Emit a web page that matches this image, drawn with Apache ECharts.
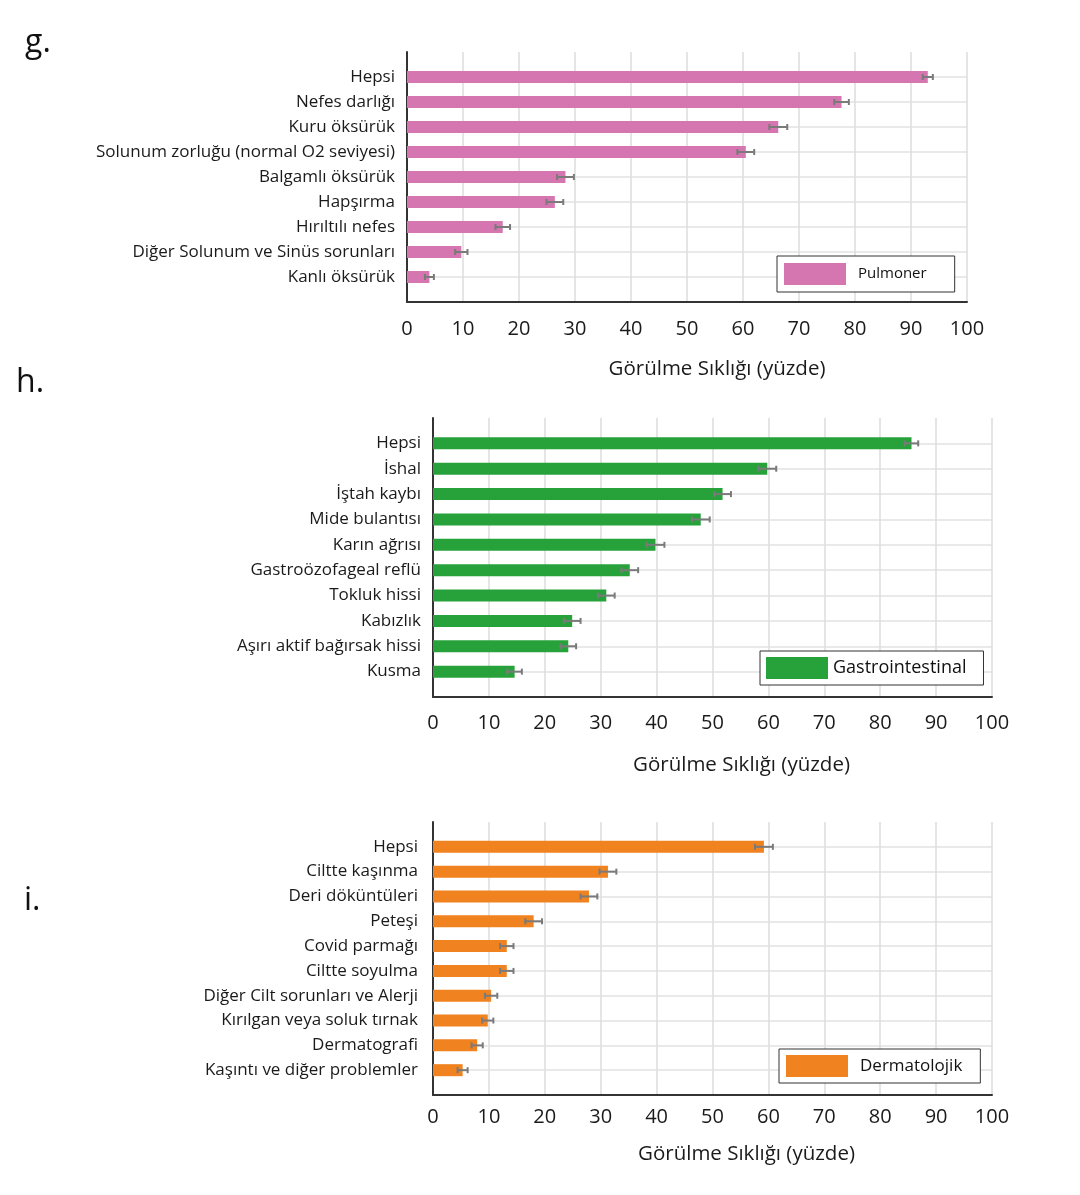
<!DOCTYPE html>
<html>
<head>
<meta charset="utf-8">
<script src="https://cdn.jsdelivr.net/npm/echarts@6/dist/echarts.min.js"></script>
<style>
html,body{margin:0;padding:0;background:#fff;}
#chart{width:1080px;height:1195px;}
</style>
</head>
<body>
<div id="chart"></div>
<script>
// ---- Data ----
const pulmCategories = ["Hepsi","Nefes darlığı","Kuru öksürük","Solunum zorluğu (normal O2 seviyesi)","Balgamlı öksürük","Hapşırma","Hırıltılı nefes","Diğer Solunum ve Sinüs sorunları","Kanlı öksürük"];
const pulmValues = [93.0, 77.6, 66.3, 60.5, 28.3, 26.4, 17.1, 9.7, 4.0];
const pulmErrors = [0.9, 1.3, 1.6, 1.5, 1.5, 1.5, 1.3, 1.1, 0.8];

const gastroCategories = ["Hepsi","İshal","İştah kaybı","Mide bulantısı","Karın ağrısı","Gastroözofageal reflü","Tokluk hissi","Kabızlık","Aşırı aktif bağırsak hissi","Kusma"];
const gastroValues = [85.6, 59.8, 51.8, 47.9, 39.8, 35.2, 31.0, 24.9, 24.2, 14.6];
const gastroErrors = [1.2, 1.6, 1.5, 1.6, 1.6, 1.5, 1.5, 1.5, 1.4, 1.3];

const dermCategories = ["Hepsi","Ciltte kaşınma","Deri döküntüleri","Peteşi","Covid parmağı","Ciltte soyulma","Diğer Cilt sorunları ve Alerji","Kırılgan veya soluk tırnak","Dermatografi","Kaşıntı ve diğer problemler"];
const dermValues = [59.2, 31.3, 27.9, 18.0, 13.2, 13.2, 10.4, 9.8, 7.9, 5.3];
const dermErrors = [1.6, 1.5, 1.5, 1.5, 1.2, 1.2, 1.1, 1.0, 1.0, 0.9];

const xTicks = [0,10,20,30,40,50,60,70,80,90,100];
const axisTitle = "Görülme Sıklığı (yüzde)";
const seriesNames = ["Pulmoner","Gastrointestinal","Dermatolojik"];
const panelLetters = ["g.","h.","i."];

// ---- Chart ----
const FONT = "'Open Sans', 'Noto Sans', sans-serif";
const chart = echarts.init(document.getElementById('chart'), null, {renderer:'canvas'});

function renderItem(params, api){
  const v = api.value(0), y = api.value(1), e = api.value(2);
  const p0 = api.coord([0, y]);
  const p1 = api.coord([v, y]);
  const lo = api.coord([v - e, y]);
  const hi = api.coord([v + e, y]);
  const h = 12, cap = 6;
  const errStyle = {stroke:'#7a7a7a', lineWidth:2};
  return {type:'group', children:[
    {type:'rect', shape:{x:p0[0], y:p0[1]-h/2, width:p1[0]-p0[0], height:h}, style:{fill:api.visual('color')}},
    {type:'line', shape:{x1:lo[0], y1:lo[1], x2:hi[0], y2:hi[1]}, style:errStyle},
    {type:'line', shape:{x1:lo[0], y1:lo[1]-cap/2, x2:lo[0], y2:lo[1]+cap/2}, style:errStyle},
    {type:'line', shape:{x1:hi[0], y1:hi[1]-cap/2, x2:hi[0], y2:hi[1]+cap/2}, style:errStyle}
  ]};
}

const panels = [
  {cats:pulmCategories, vals:pulmValues, errs:pulmErrors, color:'#D676B1',
   grid:{left:407, top:52, width:560, height:250}, labelMargin:17, nameGap:57, namePad:60, yMargin:12,
   legend:{left:777, top:256, padding:[7,28,7,7], fontSize:15, textPad:[0,0,0,7]}},
  {cats:gastroCategories, vals:gastroValues, errs:gastroErrors, color:'#27A23B',
   grid:{left:433, top:418, width:559, height:279}, labelMargin:16, nameGap:58, namePad:58, yMargin:12,
   legend:{left:760, top:651, padding:[6,17,6,6], fontSize:18, textPad:[0,0,0,0]}},
  {cats:dermCategories, vals:dermValues, errs:dermErrors, color:'#F0821F',
   grid:{left:433, top:822, width:559, height:273}, labelMargin:12, nameGap:49, namePad:68, yMargin:15,
   legend:{left:779, top:1049, padding:[6,18,6,7], fontSize:17, textPad:[0,0,0,7]}}
];

const option = {
  backgroundColor:'#fff',
  animation:false,
  textStyle:{fontFamily:FONT},
  grid:[], xAxis:[], yAxis:[], series:[], legend:[],
  graphic:[]
};

panels.forEach((p, i) => {
  option.grid.push(Object.assign({containLabel:false}, p.grid));
  option.xAxis.push({
    type:'value', gridIndex:i, min:xTicks[0], max:xTicks[xTicks.length-1], interval:xTicks[1]-xTicks[0],
    axisLine:{show:true, onZero:false, lineStyle:{color:'#333', width:2}},
    axisTick:{show:false},
    axisLabel:{color:'#1a1a1a', fontSize:20, margin:p.labelMargin, fontFamily:FONT},
    splitLine:{show:true, lineStyle:{color:'#dcdcdc', width:1.5}},
    name:axisTitle, nameLocation:'middle', nameGap:p.nameGap,
    nameTextStyle:{color:'#1a1a1a', fontSize:20.5, fontFamily:FONT, padding:[0,0,0,p.namePad]}
  });
  option.yAxis.push({
    type:'value', gridIndex:i, inverse:true, min:-1, max:p.cats.length, interval:1,
    axisLine:{show:true, onZero:false, lineStyle:{color:'#333', width:2}},
    axisTick:{show:false},
    axisLabel:{color:'#1a1a1a', fontSize:17, margin:p.yMargin, fontFamily:FONT,
      formatter:(v) => (p.cats[v] !== undefined ? p.cats[v] : '')},
    splitLine:{show:true, showMinLine:false, showMaxLine:false, lineStyle:{color:'#e2e2e2', width:1.5}}
  });
  option.series.push({
    type:'custom', name:seriesNames[i], xAxisIndex:i, yAxisIndex:i,
    itemStyle:{color:p.color},
    renderItem:renderItem,
    encode:{x:0, y:1},
    data:p.cats.map((c, k) => [p.vals[k], k, p.errs[k]])
  });
  option.legend.push({
    data:[seriesNames[i]], left:p.legend.left, top:p.legend.top,
    orient:'horizontal', icon:'rect', itemWidth:62, itemHeight:22,
    padding:p.legend.padding, borderColor:'#333', borderWidth:1, backgroundColor:'#fff',
    selectedMode:false,
    textStyle:{color:'#111', fontSize:p.legend.fontSize, fontFamily:FONT, padding:p.legend.textPad}
  });
});

// panel letters
const letterPos = [[25,27],[16,367],[24,885]];
panelLetters.forEach((t, i) => {
  option.graphic.push({type:'text', left:letterPos[i][0], top:letterPos[i][1],
    style:{text:t, fontSize:32, fill:'#111', fontFamily:FONT}});
});

chart.setOption(option);
</script>
</body>
</html>
